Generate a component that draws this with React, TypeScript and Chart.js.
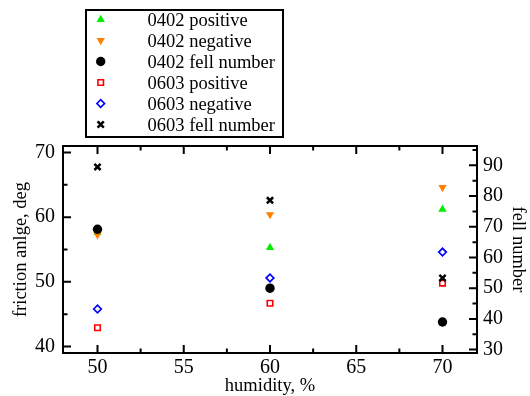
import React, { useEffect, useRef } from 'react';
import { Chart, registerables } from 'chart.js';

Chart.register(...registerables);

// ---- data ----
const humidity = [50, 60, 70];
const pos0402 = [57.6, 55.3, 61.2];
const neg0402 = [57.3, 60.4, 64.6];
const fell0402 = [69.2, 50.0, 39.0];
const pos0603 = [42.9, 46.7, 49.8];
const neg0603 = [45.8, 50.6, 54.6];
const fell0603 = [89.5, 78.6, 53.3];

const seriesLabels = [
  '0402 positive',
  '0402 negative',
  '0402 fell number',
  '0603 positive',
  '0603 negative',
  '0603 fell number',
];

const xTickLabels = [50, 55, 60, 65, 70];
const xMinorTicks = [52.5, 57.5, 62.5, 67.5];
const yLeftTickLabels = [40, 50, 60, 70];
const yLeftMinorTicks = [45, 55, 65];
const yRightTickLabels = [30, 40, 50, 60, 70, 80, 90];
const yRightMinorTicks = [35, 45, 55, 65, 75, 85, 95];

const FONT = '"Liberation Serif", "Times New Roman", serif';

const toPoints = (ys: number[]) => humidity.map((x, i) => ({ x, y: ys[i] }));

function drawMarker(ctx: CanvasRenderingContext2D, ds: any, x: number, y: number) {
  const style = ds.pointStyle;
  const r = ds.pointRadius;
  let rad = ((ds.pointRotation || 0) * Math.PI) / 180;
  ctx.save();
  ctx.beginPath();
  if (style === 'circle') {
    ctx.arc(x, y, r, 0, Math.PI * 2);
  } else if (style === 'triangle') {
    ctx.moveTo(x + Math.sin(rad) * r, y - Math.cos(rad) * r);
    rad += (2 * Math.PI) / 3;
    ctx.lineTo(x + Math.sin(rad) * r, y - Math.cos(rad) * r);
    rad += (2 * Math.PI) / 3;
    ctx.lineTo(x + Math.sin(rad) * r, y - Math.cos(rad) * r);
    ctx.closePath();
  } else if (style === 'rect') {
    const s = Math.SQRT1_2 * r;
    ctx.rect(x - s, y - s, 2 * s, 2 * s);
  } else if (style === 'rectRot') {
    ctx.moveTo(x - r, y);
    ctx.lineTo(x, y - r);
    ctx.lineTo(x + r, y);
    ctx.lineTo(x, y + r);
    ctx.closePath();
  } else if (style === 'crossRot') {
    const o = Math.SQRT1_2 * r;
    ctx.moveTo(x - o, y - o);
    ctx.lineTo(x + o, y + o);
    ctx.moveTo(x + o, y - o);
    ctx.lineTo(x - o, y + o);
  }
  ctx.fillStyle = ds.pointBackgroundColor;
  if (style !== 'crossRot') ctx.fill();
  if (ds.pointBorderWidth > 0) {
    ctx.lineWidth = ds.pointBorderWidth;
    ctx.strokeStyle = ds.pointBorderColor;
    ctx.stroke();
  }
  ctx.restore();
}

const framePlugin = {
  id: 'frameTicksLegend',
  afterDraw(chart: any) {
    const { ctx, chartArea: a, scales } = chart;
    const MAJ = 8;
    const MIN = 4.5;
    ctx.save();
    ctx.strokeStyle = '#000';
    ctx.lineWidth = 2;
    ctx.strokeRect(a.left, a.top, a.right - a.left, a.bottom - a.top);

    ctx.beginPath();
    const xs = scales.x;
    const xt = (vals: number[], len: number) => {
      vals.forEach((v) => {
        const p = xs.getPixelForValue(v);
        ctx.moveTo(p, a.bottom);
        ctx.lineTo(p, a.bottom - len);
        ctx.moveTo(p, a.top);
        ctx.lineTo(p, a.top + len);
      });
    };
    xt(xTickLabels, MAJ);
    xt(xMinorTicks, MIN);
    const yl = scales.y;
    const ylt = (vals: number[], len: number) => {
      vals.forEach((v) => {
        const p = yl.getPixelForValue(v);
        ctx.moveTo(a.left, p);
        ctx.lineTo(a.left + len, p);
      });
    };
    ylt(yLeftTickLabels, MAJ);
    ylt(yLeftMinorTicks, MIN);
    const yr = scales.y1;
    const yrt = (vals: number[], len: number) => {
      vals.forEach((v) => {
        const p = yr.getPixelForValue(v);
        if (p < a.top + 1 || p > a.bottom - 1) return;
        ctx.moveTo(a.right, p);
        ctx.lineTo(a.right - len, p);
      });
    };
    yrt(yRightTickLabels, MAJ);
    yrt(yRightMinorTicks, MIN);
    ctx.stroke();

    // legend
    const LX = 86, LY = 10, LW = 197, LH = 127;
    ctx.lineWidth = 2;
    ctx.strokeRect(LX, LY, LW, LH);
    ctx.font = '18.5px ' + FONT;
    ctx.fillStyle = '#000';
    ctx.textBaseline = 'middle';
    ctx.textAlign = 'left';
    chart.data.datasets.forEach((ds: any, i: number) => {
      const y = 19.5 + i * 21;
      drawMarker(ctx, ds, 100.7, y);
      ctx.fillStyle = '#000';
      ctx.fillText(ds.label, 147.5, y + 1.5);
    });
    ctx.restore();
  },
};

export default function App() {
  const ref = useRef<HTMLCanvasElement | null>(null);

  useEffect(() => {
    if (!ref.current) return;
    const common = { showLine: false };
    const chart = new Chart(ref.current, {
      type: 'scatter',
      data: {
        datasets: [
          {
            ...common,
            label: seriesLabels[0],
            data: toPoints(pos0402),
            yAxisID: 'y',
            order: 6,
            pointStyle: 'triangle',
            pointRotation: 0,
            pointRadius: 4.8,
            pointBackgroundColor: '#00ee00',
            pointBorderColor: '#00ee00',
            pointBorderWidth: 0,
          },
          {
            ...common,
            label: seriesLabels[1],
            data: toPoints(neg0402),
            yAxisID: 'y',
            order: 5,
            pointStyle: 'triangle',
            pointRotation: 180,
            pointRadius: 4.8,
            pointBackgroundColor: '#ff8000',
            pointBorderColor: '#ff8000',
            pointBorderWidth: 0,
          },
          {
            ...common,
            label: seriesLabels[2],
            data: toPoints(fell0402),
            yAxisID: 'y1',
            order: 4,
            pointStyle: 'circle',
            pointRotation: 0,
            pointRadius: 4.7,
            pointBackgroundColor: '#000000',
            pointBorderColor: '#000000',
            pointBorderWidth: 0,
          },
          {
            ...common,
            label: seriesLabels[3],
            data: toPoints(pos0603),
            yAxisID: 'y',
            order: 3,
            pointStyle: 'rect',
            pointRotation: 0,
            pointRadius: 3.9,
            pointBackgroundColor: 'rgba(255,255,255,0)',
            pointBorderColor: '#ff0000',
            pointBorderWidth: 1.6,
          },
          {
            ...common,
            label: seriesLabels[4],
            data: toPoints(neg0603),
            yAxisID: 'y',
            order: 2,
            pointStyle: 'rectRot',
            pointRotation: 0,
            pointRadius: 3.8,
            pointBackgroundColor: 'rgba(255,255,255,0)',
            pointBorderColor: '#0000ff',
            pointBorderWidth: 1.7,
          },
          {
            ...common,
            label: seriesLabels[5],
            data: toPoints(fell0603),
            yAxisID: 'y1',
            order: 1,
            pointStyle: 'crossRot',
            pointRotation: 0,
            pointRadius: 4.4,
            pointBackgroundColor: '#000000',
            pointBorderColor: '#000000',
            pointBorderWidth: 2.5,
          },
        ],
      } as any,
      options: {
        responsive: false,
        animation: false,
        events: [],
        layout: { padding: { top: 146, left: 0, right: 0, bottom: 0 } },
        plugins: {
          legend: { display: false },
          tooltip: { enabled: false },
        },
        scales: {
          x: {
            type: 'linear',
            position: 'bottom',
            min: 48,
            max: 72,
            afterBuildTicks: (s: any) => {
              s.ticks = xTickLabels.map((v) => ({ value: v }));
            },
            afterFit: (s: any) => {
              s.height = 43;
            },
            grid: { display: false, drawTicks: false },
            border: { display: false },
            ticks: {
              autoSkip: false,
              maxRotation: 0,
              padding: 3,
              color: '#000',
              font: { family: FONT, size: 20 },
            },
            title: {
              display: true,
              text: 'humidity, %',
              color: '#000',
              font: { family: FONT, size: 18.5, lineHeight: 1 },
              padding: { top: 0, bottom: 1 },
            },
          },
          y: {
            type: 'linear',
            position: 'left',
            min: 39,
            max: 71,
            afterBuildTicks: (s: any) => {
              s.ticks = yLeftTickLabels.map((v) => ({ value: v }));
            },
            afterFit: (s: any) => {
              s.width = 63;
            },
            grid: { display: false, drawTicks: false },
            border: { display: false },
            ticks: {
              autoSkip: false,
              padding: 8,
              color: '#000',
              font: { family: FONT, size: 20 },
            },
            title: {
              display: true,
              text: 'friction anlge, deg',
              color: '#000',
              font: { family: FONT, size: 18.5, lineHeight: 1 },
              padding: { top: 11.75, bottom: 0 },
            },
          },
          y1: {
            type: 'linear',
            position: 'right',
            min: 28.9,
            max: 96.3,
            afterBuildTicks: (s: any) => {
              s.ticks = yRightTickLabels.map((v) => ({ value: v }));
            },
            afterFit: (s: any) => {
              s.width = 53;
            },
            grid: { display: false, drawTicks: false },
            border: { display: false },
            ticks: {
              autoSkip: false,
              padding: 6,
              color: '#000',
              font: { family: FONT, size: 20 },
            },
            title: {
              display: true,
              text: 'fell number',
              color: '#000',
              font: { family: FONT, size: 18.5, lineHeight: 1 },
              padding: { top: 3, bottom: 0 },
            },
          },
        },
      } as any,
      plugins: [framePlugin],
    });
    return () => chart.destroy();
  }, []);

  return (
    <div
      style={{
        position: 'absolute',
        left: 0,
        top: 0,
        width: 530,
        height: 396,
        background: '#fff',
      }}
    >
      <canvas ref={ref} width={530} height={396} style={{ display: 'block' }} />
    </div>
  );
}
